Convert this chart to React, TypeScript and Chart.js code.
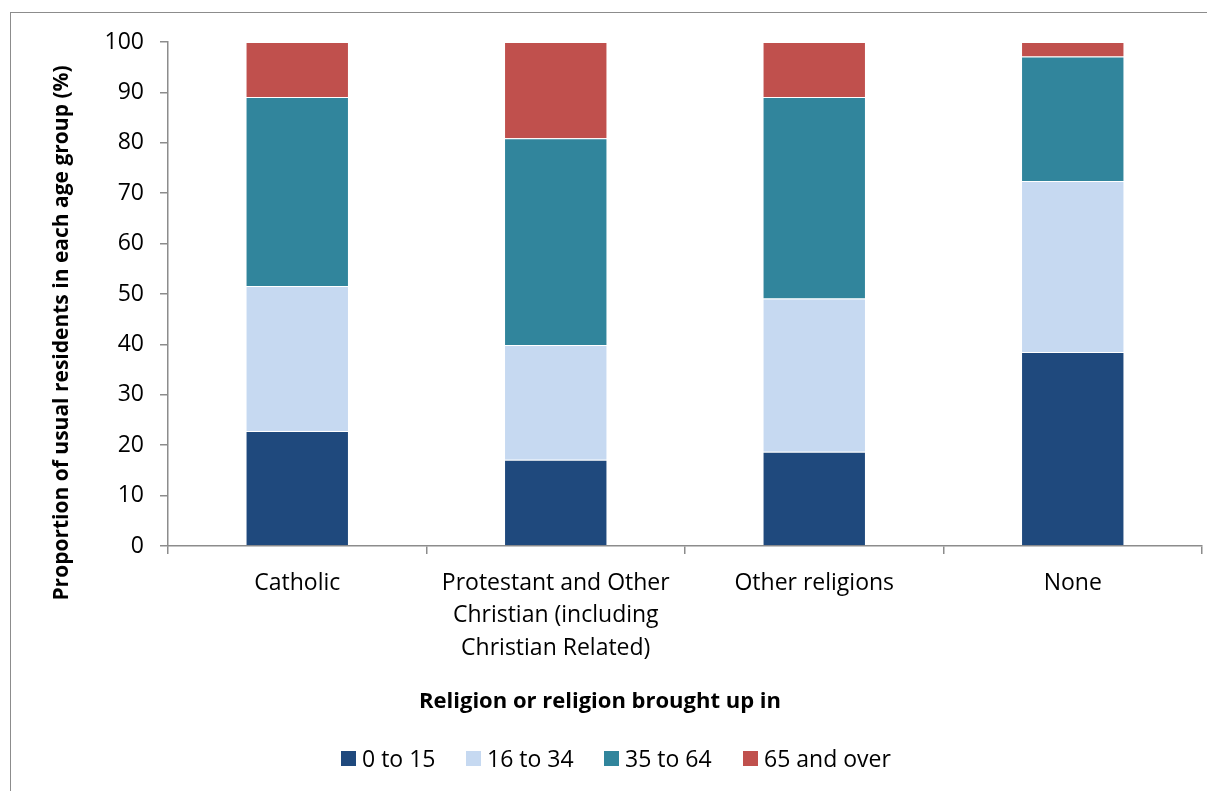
import React, { useEffect, useRef } from "react";
import { Chart, registerables } from "chart.js";

Chart.register(...registerables);

const categories: string[][] = [
  ["Catholic"],
  ["Protestant and Other", "Christian (including", "Christian Related)"],
  ["Other religions"],
  ["None"],
];
const seriesNames = ["0 to 15", "16 to 34", "35 to 64", "65 and over"];
const age0to15 = [22.8, 17.1, 18.7, 38.5];
const age16to34 = [28.8, 22.8, 30.4, 33.9];
const age35to64 = [37.5, 41.0, 40.0, 24.7];
const age65plus = [10.9, 19.1, 10.9, 2.9];
const seriesColors = ["#1F497D", "#C6D9F1", "#31859C", "#C0504D"];
const yTicks = [0, 10, 20, 30, 40, 50, 60, 70, 80, 90, 100];
const yTitle = "Proportion of usual residents in each age group (%)";
const xTitle = "Religion or religion brought up in";

const FONT = "'Open Sans', 'Noto Sans', sans-serif";
const legendLefts = [341, 466, 604, 743];

const titlePlugin = {
  id: "customTitles",
  afterDraw(chart: any) {
    const ctx = chart.ctx;
    ctx.save();
    ctx.fillStyle = "#000";
    ctx.textAlign = "center";
    ctx.textBaseline = "middle";
    ctx.font = `bold 22px ${FONT}`;
    ctx.fillText(xTitle, 600, 702);
    ctx.font = `bold 21px ${FONT}`;
    ctx.translate(62, 333);
    ctx.rotate(-Math.PI / 2);
    ctx.fillText(yTitle, 0, 0);
    ctx.restore();
  },
};

export default function App() {
  const ref = useRef<HTMLCanvasElement | null>(null);
  useEffect(() => {
    if (!ref.current) return;
    const data = [age0to15, age16to34, age35to64, age65plus];
    const chart = new Chart(ref.current, {
      type: "bar",
      data: {
        labels: categories,
        datasets: seriesNames.map((name, i) => ({
          label: name,
          data: data[i],
          backgroundColor: seriesColors[i],
          borderColor: "rgba(255,255,255,0.35)",
          borderWidth: 1,
          barPercentage: 0.4,
          categoryPercentage: 1,
        })),
      },
      options: {
        responsive: false,
        animation: false,
        layout: { padding: { left: 24, right: 5, top: 42, bottom: 0 } },
        plugins: {
          legend: { display: false },
          tooltip: { enabled: false },
        },
        scales: {
          x: {
            stacked: true,
            afterFit: (s: any) => {
              s.height = 245;
            },
            grid: {
              display: true,
              drawOnChartArea: false,
              drawTicks: true,
              tickLength: 8,
              color: "#8c8c8c",
              lineWidth: 1.5,
              offset: true,
            },
            border: { color: "#8c8c8c", width: 1.5 },
            ticks: {
              color: "#000",
              padding: 13,
              maxRotation: 0,
              autoSkip: false,
              font: { family: FONT, size: 23, lineHeight: 1.41 },
            },
          },
          y: {
            stacked: true,
            min: 0,
            max: 100,
            afterFit: (s: any) => {
              s.width = 144;
            },
            afterBuildTicks: (s: any) => {
              s.ticks = yTicks.map((v) => ({ value: v }));
            },
            grid: {
              display: true,
              drawOnChartArea: false,
              drawTicks: true,
              tickLength: 8,
              color: "#8c8c8c",
              lineWidth: 1.5,
            },
            border: { color: "#8c8c8c", width: 1.5 },
            ticks: {
              color: "#000",
              padding: 16,
              font: { family: FONT, size: 23 },
            },
          },
        },
      },
      plugins: [titlePlugin],
    });
    return () => chart.destroy();
  }, []);

  return (
    <div style={{ position: "fixed", left: 0, top: 0, width: 1207, height: 791, background: "#fff" }}>
      <div
        style={{
          position: "absolute",
          left: 10,
          top: 12,
          width: 1197,
          height: 779,
          borderTop: "1.5px solid #8c8c8c",
          borderLeft: "1.5px solid #8c8c8c",
          boxSizing: "border-box",
        }}
      />
      <canvas ref={ref} width={1207} height={791} style={{ position: "absolute", left: 0, top: 0, display: "block" }} />
      {seriesNames.map((name, i) => (
        <div
          key={name}
          style={{
            position: "absolute",
            left: legendLefts[i],
            top: 743,
            height: 30,
            display: "flex",
            alignItems: "center",
            whiteSpace: "nowrap",
            fontFamily: FONT,
            fontSize: 23,
            lineHeight: 1,
            color: "#000",
          }}
        >
          <span style={{ display: "inline-block", width: 15, height: 15, background: seriesColors[i], marginRight: 6 }} />
          <span>{name}</span>
        </div>
      ))}
    </div>
  );
}
